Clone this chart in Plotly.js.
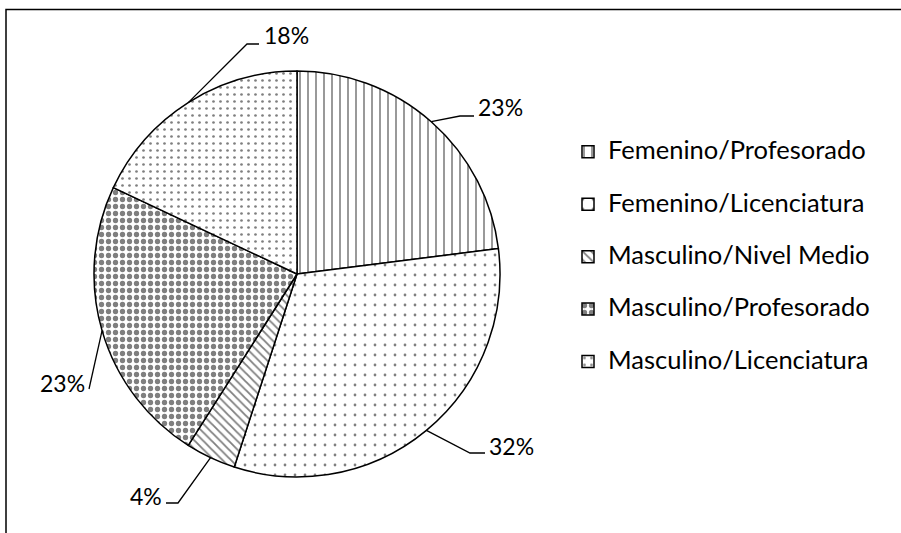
<!DOCTYPE html>
<html>
<head>
<meta charset="utf-8">
<script src="https://cdn.plot.ly/plotly-3.0.1.min.js"></script>
<style>html,body{margin:0;padding:0;background:#fff;}#chart{width:901px;height:533px;}</style>
</head>
<body>
<div id="chart"></div>
<script>
// ---- data ----
var categories = ["Femenino/Profesorado", "Femenino/Licenciatura", "Masculino/Nivel Medio", "Masculino/Profesorado", "Masculino/Licenciatura"];
var values = [23, 32, 4, 23, 18];
var percentLabels = ["23%", "32%", "4%", "23%", "18%"];

// ---- layout config (pixels) ----
var W = 901, H = 533;
var cx = 297, cy = 274, R = 203;
// label leader geometry: [elbow x, elbow y, end x, end y, text x, text y, anchor]
var leaders = [
  [460, 116, 474, 116, 476, 107, "left"],
  [470, 453, 485, 453, 487, 446, "left"],
  [178, 503, 166, 503, 164, 496, "right"],
  [89, 389, 89, 389, 87, 383, "right"],
  [247, 44, 259, 44, 262, 35, "left"]
];
var patShapes = ["|", ".", "\\", ".", "."];
var patSizes = [8, 10, 6, 7, 7];
var patSolid = [0.2, 0.06, 0.3, 0.45, 0.12];
var FONT = "Lato, 'Open Sans', sans-serif";

function px(x){ return x / W; }
function py(y){ return 1 - y / H; }

var total = values.reduce(function(a,b){return a+b;}, 0);
var shapes = [];
var annotations = [];
var cum = 0;
for (var i = 0; i < values.length; i++) {
  var mid = (cum + values[i] / 2) / total * 2 * Math.PI;
  cum += values[i];
  var sx = cx + R * Math.sin(mid), sy = cy - R * Math.cos(mid);
  var L = leaders[i];
  shapes.push({
    type: "path", xref: "paper", yref: "paper",
    path: "M" + px(sx) + "," + py(sy) + " L" + px(L[0]) + "," + py(L[1]) + " L" + px(L[2]) + "," + py(L[3]),
    line: {color: "#000", width: 1.3}
  });
  annotations.push({
    xref: "paper", yref: "paper", x: px(L[4]), y: py(L[5]),
    xanchor: L[6], yanchor: "middle", showarrow: false,
    text: percentLabels[i],
    font: {family: FONT, size: 23, color: "#000"}
  });
}
// outer frame
shapes.push({type: "rect", xref: "paper", yref: "paper", x0: px(6), y0: py(9.5), x1: px(940), y1: py(560),
  line: {color: "#000", width: 1.5}, fillcolor: "rgba(0,0,0,0)", layer: "above"});

var trace = {
  type: "pie",
  labels: categories.map(function(c){ return "<span style='font-size:25.5px'>" + c + "</span><br> "; }),
  values: values,
  sort: false,
  direction: "clockwise",
  rotation: 0,
  textinfo: "none",
  textposition: "none",
  hoverinfo: "percent",
  marker: {
    colors: categories.map(function(){ return "#ffffff"; }),
    line: {color: "#000", width: 1.5},
    pattern: {shape: patShapes, size: patSizes, solidity: patSolid, fgcolor: "#000", bgcolor: "#fff", fillmode: "overlay"}
  },
  domain: {x: [px(cx - R), px(cx + R)], y: [py(cy + R), py(cy - R)]}
};

var layout = {
  width: W, height: H,
  margin: {l: 0, r: 0, t: 0, b: 0},
  paper_bgcolor: "#fff",
  showlegend: true,
  legend: {
    x: px(568), y: py(133), xanchor: "left", yanchor: "top",
    valign: "top",
    font: {family: FONT, size: 19, color: "#000"},
    itemwidth: 30,
    bgcolor: "rgba(0,0,0,0)"
  },
  shapes: shapes,
  annotations: annotations
};

Plotly.newPlot("chart", [trace], layout, {staticPlot: true});
</script>
</body>
</html>
